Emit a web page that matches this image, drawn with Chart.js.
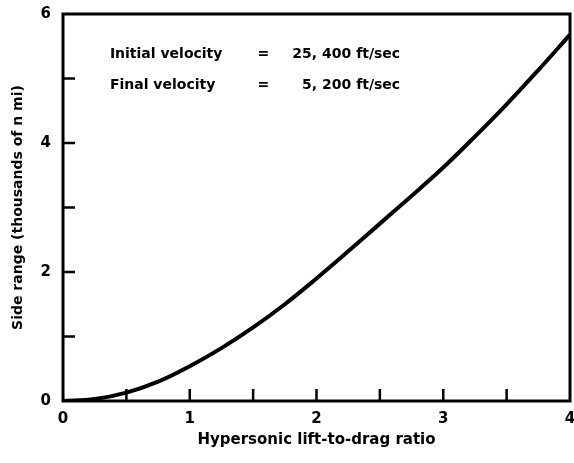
<!DOCTYPE html>
<html>
<head>
<meta charset="utf-8">
<script src="https://cdn.jsdelivr.net/npm/chart.js@4/dist/chart.umd.min.js"></script>
<style>
  html, body { margin: 0; padding: 0; background: #fff; }
  #wrap { width: 574px; height: 463px; }
</style>
</head>
<body>
<div id="wrap"><canvas id="c" width="574" height="463"></canvas></div>
<script>
// Side range versus hypersonic L/D
const liftToDrag = [0, 0.25, 0.5, 0.75, 1.0, 1.25, 1.5, 1.75, 2.0, 2.25, 2.5, 2.75, 3.0, 3.25, 3.5, 3.75, 4.0];
const sideRange  = [0, 0.03, 0.13, 0.30, 0.54, 0.82, 1.14, 1.50, 1.90, 2.32, 2.75, 3.18, 3.62, 4.10, 4.60, 5.13, 5.68];

const xTickLabels = ['0', '1', '2', '3', '4'];
const yTickLabels = ['0', '2', '4', '6'];

const noteLines = [
  ['Initial velocity', '=', '25, 400 ft/sec'],
  ['Final velocity', '=', '5, 200 ft/sec']
];

const FONT = '"DejaVu Sans", sans-serif';

const framePlugin = {
  id: 'frame',
  afterDraw(chart) {
    const { ctx, chartArea: a, scales: { x, y } } = chart;
    ctx.save();
    ctx.strokeStyle = '#000';
    ctx.lineWidth = 3;
    ctx.strokeRect(a.left, a.top, a.right - a.left, a.bottom - a.top);
    // inward tick marks
    ctx.lineWidth = 2.5;
    for (let v = 0.5; v < 4; v += 0.5) {
      const px = x.getPixelForValue(v);
      ctx.beginPath(); ctx.moveTo(px, a.bottom); ctx.lineTo(px, a.bottom - 12); ctx.stroke();
    }
    for (let v = 1; v < 6; v += 1) {
      const py = y.getPixelForValue(v);
      ctx.beginPath(); ctx.moveTo(a.left, py); ctx.lineTo(a.left + 12, py); ctx.stroke();
    }
    // velocity note
    ctx.fillStyle = '#000';
    ctx.font = 'bold 14px ' + FONT;
    ctx.textBaseline = 'middle';
    const x0 = x.getPixelForValue(0.37);
    const xEq = x.getPixelForValue(1.58);
    const xEnd = x.getPixelForValue(2.66);
    const rows = [5.37, 4.89];
    noteLines.forEach((row, i) => {
      const py = y.getPixelForValue(rows[i]);
      ctx.textAlign = 'left';  ctx.fillText(row[0], x0, py);
      ctx.textAlign = 'center'; ctx.fillText(row[1], xEq, py);
      ctx.textAlign = 'right'; ctx.fillText(row[2], xEnd, py);
    });
    ctx.restore();
  }
};

new Chart(document.getElementById('c'), {
  type: 'line',
  data: {
    datasets: [{
      data: liftToDrag.map((v, i) => ({ x: v, y: sideRange[i] })),
      borderColor: '#000',
      borderWidth: 4,
      pointRadius: 0,
      tension: 0.4,
      fill: false
    }]
  },
  options: {
    responsive: false,
    animation: false,
    events: [],
    layout: { padding: { left: 10, right: 4, top: 14, bottom: 14 } },
    plugins: { legend: { display: false }, tooltip: { enabled: false } },
    scales: {
      x: {
        type: 'linear',
        min: 0, max: 4,
        grid: { display: false },
        border: { display: false },
        ticks: {
          stepSize: 0.5,
          padding: 1,
          maxRotation: 0,
          autoSkip: false,
          color: '#000',
          font: { family: FONT, size: 15, weight: 'bold' },
          callback: v => Number.isInteger(v) ? xTickLabels[v] : ''
        },
        title: {
          display: true,
          text: 'Hypersonic lift-to-drag ratio',
          color: '#000',
          font: { family: FONT, size: 15, weight: 'bold' },
          padding: { top: 4, bottom: 0 }
        },
        afterFit: s => { s.height = 48; s.paddingRight = 0; s.paddingLeft = 0; }
      },
      y: {
        min: 0, max: 6,
        grid: { display: false },
        border: { display: false },
        ticks: {
          stepSize: 1,
          padding: 4,
          autoSkip: false,
          color: '#000',
          font: { family: FONT, size: 15, weight: 'bold' },
          callback: v => (v % 2 === 0) ? yTickLabels[v / 2] : ''
        },
        title: {
          display: true,
          text: 'Side range (thousands of n mi)',
          color: '#000',
          font: { family: FONT, size: 14, weight: 'bold' },
          padding: { top: 0, bottom: 8 }
        },
        afterFit: s => { s.width = 53; s.paddingTop = 0; s.paddingBottom = 0; }
      }
    }
  },
  plugins: [framePlugin]
});
</script>
</body>
</html>
